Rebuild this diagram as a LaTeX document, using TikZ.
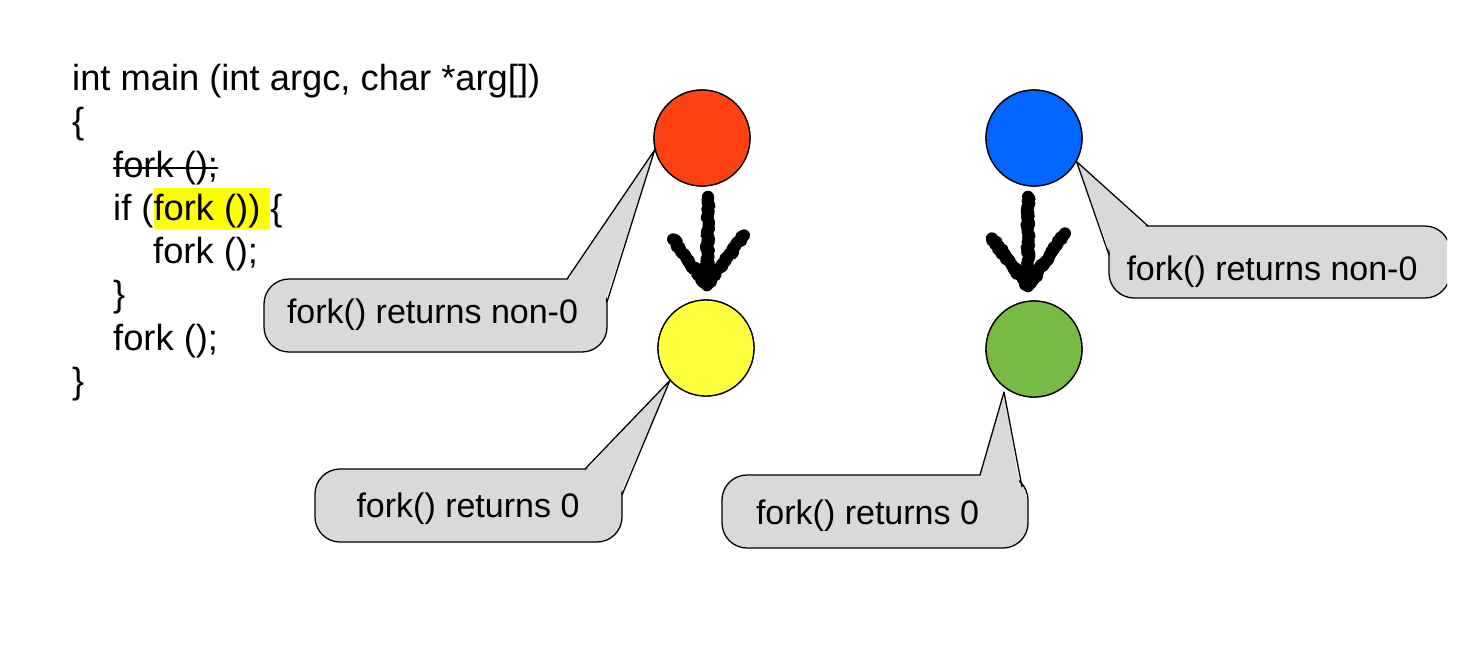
\documentclass[tikz,border=0pt]{standalone}
\usepackage{fontspec}
\setmainfont{Liberation Sans}
\usetikzlibrary{decorations.pathmorphing}
\setlength{\fboxsep}{0pt}
\definecolor{cred}{RGB}{255,66,20}
\definecolor{cyellow}{RGB}{255,255,64}
\definecolor{cblue}{RGB}{0,102,255}
\definecolor{cgreen}{RGB}{119,187,68}
\definecolor{cgray}{RGB}{217,217,217}
\definecolor{hlyellow}{RGB}{255,255,0}
\begin{document}
\begin{tikzpicture}[x=1pt,y=-1pt,
  code/.style={anchor=base west, inner sep=0pt, font=\fontsize{36.3}{43}\selectfont},
  ctext/.style={anchor=base, inner sep=0pt, font=\fontsize{34}{40}\selectfont},
  proc/.style={circle, draw=black, line width=1.3pt, minimum size=96pt, inner sep=0pt},
  cbox/.style={fill=cgray, draw=black, line width=1.3pt, rounded corners=25pt},
  cfill/.style={fill=cgray},
  cedge/.style={draw=black, line width=1.3pt, line join=round},
  scribble/.style={draw=black, line width=12pt, line cap=round, line join=round,
    decorate, decoration={random steps, segment length=2pt, amplitude=1.6pt}}]
\useasboundingbox (0,0) rectangle (1467,662);
\pgfmathsetseed{7}

% code
\node[code] (code1) at (72,90.5) {int main (int argc, char *arg[])};
\node[code] (code2) at (72,133.8) {\{};
\node[code] (code3) at (113,177) {fork ();};
\node[code] (code4) at (113,220.3) {if (\colorbox{hlyellow}{\rule[-9pt]{0pt}{41pt}fork ()) }\{};
\node[code] (code5) at (153,263.6) {fork ();};
\node[code] (code6) at (113,306.9) {\}};
\node[code] (code7) at (113,350.2) {fork ();};
\node[code] (code8) at (72,393.5) {\}};
\draw[line width=2pt] ([yshift=9pt]code3.base west) -- ([yshift=9pt]code3.base east);

% process circles (positions)
\path (702,138) node[proc, fill=cred] (red) {};
\path (706,348) node[proc, fill=cyellow] (yellow) {};
\path (1034,138) node[proc, fill=cblue] (blue) {};
\path (1034,349) node[proc, fill=cgreen] (green) {};

% callout 1
\coordinate (t1) at (red.194);
\draw[cbox] (264,279) rectangle (607,352);
\fill[cfill] (567,281) -- (t1) -- (605,302) -- cycle;
\draw[cedge] (567,279) -- (t1) -- (607,302);
\node[ctext] (lab1) at (432.5,323) {fork() returns non-0};

% callout 2
\coordinate (t2) at (yellow.222);
\draw[cbox] (315,469) rectangle (622,542);
\fill[cfill] (585,471) -- (t2) -- (620,495) -- cycle;
\draw[cedge] (585,469) -- (t2) -- (622,495);
\node[ctext] (lab2) at (468,517) {fork() returns 0};

% callout 3
\coordinate (t3) at (1004,392);
\draw[cbox] (722,475) rectangle (1028,548);
\fill[cfill] (980,477) -- (t3) -- (1020,488) -- cycle;
\draw[cedge] (980,475) -- (t3) -- (1022,487);
\node[ctext] (lab3) at (867.5,524) {fork() returns 0};

% callout 4 (clipped at right)
\begin{scope}
\clip (1000,140) rectangle (1447,320);
\coordinate (t4) at (blue.-29);
\draw[cbox] (1109,226) rectangle (1450,298);
\fill[cfill] (1148,228) -- (t4) -- (1111,255) -- cycle;
\draw[cedge] (1148,226) -- (t4) -- (1109,255);
\end{scope}
\node[ctext] (lab4) at (1272,280) {fork() returns non-0};

% redraw circles on top of pointer tips
\path (702,138) node[proc, fill=cred] {};
\path (706,348) node[proc, fill=cyellow] {};
\path (1034,138) node[proc, fill=cblue] {};
\path (1034,349) node[proc, fill=cgreen] {};

% scribbled arrows
\coordinate (tipA) at ([xshift=1pt,yshift=14pt]yellow.north);
\draw[scribble] ([xshift=6pt,yshift=-10pt]red.south) -- ([yshift=6pt]tipA);
\draw[scribble] ([xshift=-34pt,yshift=46pt]tipA) -- (tipA) -- ([xshift=37pt,yshift=50pt]tipA);
\coordinate (tipB) at ([xshift=-6pt,yshift=14pt]green.north);
\draw[scribble] ([xshift=-6pt,yshift=-10pt]blue.south) -- ([yshift=6pt]tipB);
\draw[scribble] ([xshift=-36pt,yshift=48pt]tipB) -- (tipB) -- ([xshift=37pt,yshift=53pt]tipB);
\end{tikzpicture}
\end{document}
